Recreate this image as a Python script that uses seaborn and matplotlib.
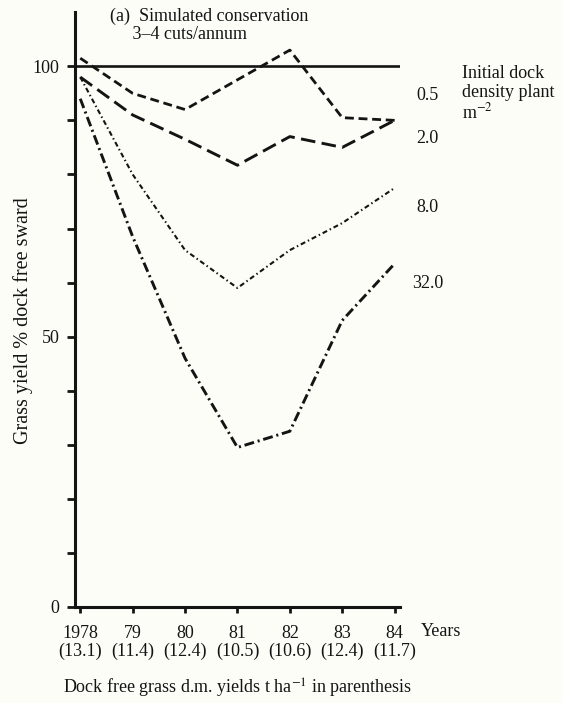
import matplotlib
matplotlib.use("Agg")
import matplotlib.pyplot as plt
import seaborn as sns
import pandas as pd

# ---- data ----
years = ["1978", "79", "80", "81", "82", "83", "84"]
dock_free_yield = ["13.1", "11.4", "12.4", "10.5", "10.6", "12.4", "11.7"]
densities = ["0.5", "2.0", "8.0", "32.0"]
d05 = [101.5, 95.0, 92.0, 97.5, 103.0, 90.5, 90.0]
d20 = [98.0, 91.0, 86.5, 81.7, 87.0, 85.0, 90.0]
d80 = [98.0, 80.0, 66.0, 59.0, 66.0, 71.0, 77.5]
d320 = [94.0, 68.5, 46.0, 29.5, 32.5, 53.0, 63.5]
label_y = [94.6, 86.7, 73.9, 59.9]  # where the density labels sit (y)
reference_level = 100

series = {"0.5": d05, "2.0": d20, "8.0": d80, "32.0": d320}
rows = []
for dens, vals in series.items():
    for i, v in enumerate(vals):
        rows.append({"x": i, "year": years[i], "density": dens, "y": v})
df = pd.DataFrame(rows)

sns.set_theme(style="white")
plt.rcParams["font.family"] = ["Liberation Serif", "DejaVu Serif"]
plt.rcParams["mathtext.fontset"] = "stix"

FS = 13
bg = "#fdfdf8"
ink = "#141414"
fig = plt.figure(figsize=(5.62, 7.03), dpi=100, facecolor=bg)
ax = fig.add_axes([0.1335, 0.1366, 0.578, 0.846])
ax.set_facecolor(bg)

styles = {
    "0.5": dict(dashes=(3.2, 1.7), lw=2.0),
    "2.0": dict(dashes=(5.0, 2.2), lw=2.1),
    "8.0": dict(dashes=(2.4, 1.4, 0.7, 1.4), lw=1.5),
    "32.0": dict(dashes=(3.4, 1.3, 0.7, 1.3), lw=2.1),
}
for dens in densities:
    sub = df[df["density"] == dens]
    st = styles[dens]
    sns.lineplot(data=sub, x="x", y="y", ax=ax, color=ink, lw=st["lw"],
                 dashes=False, legend=False, estimator=None, sort=False)
    ax.lines[-1].set_dashes(st["dashes"])
    ax.lines[-1].set_clip_on(False)

ax.axhline(reference_level, xmin=0, xmax=1, color=ink, lw=1.9)

ax.set_xlim(-0.1, 6.1)
ax.set_ylim(0, 110)

# spines
for s in ["top", "right"]:
    ax.spines[s].set_visible(False)
for s in ["left", "bottom"]:
    ax.spines[s].set_color(ink)
    ax.spines[s].set_linewidth(2.2)

# ticks
yt = list(range(0, 101, 10))
ax.set_yticks(yt)
ax.set_yticklabels([str(t) if t in (0, 50, 100) else "" for t in yt])
ax.tick_params(axis="y", direction="out", length=6, width=2, color=ink,
               labelsize=FS, labelcolor=ink, pad=5, left=True)
ax.set_xticks(range(len(years)))
ax.set_xticklabels([f"{y}\n({v})" for y, v in zip(years, dock_free_yield)],
                   linespacing=1.05)
ax.tick_params(axis="x", direction="out", length=4, width=2, color=ink,
               labelsize=FS, labelcolor=ink, pad=9, bottom=True)

ax.set_xlabel("")
ax.set_ylabel("Grass yield % dock free sward", fontsize=14.5, color=ink)
ax.yaxis.set_label_coords(-0.13, 0.482)

# title-like annotation
fig.text(110 / 562, 1 - 8 / 703, "(a)  Simulated conservation\n     3–4 cuts/annum",
         fontsize=FS, color=ink, va="top", ha="left", linespacing=1.05)

# density labels
for dens, yl in zip(densities, label_y):
    ax.text(6.42 if dens != "32.0" else 6.34, yl, dens, fontsize=FS, color=ink,
            va="center", ha="left", clip_on=False)

ax.text(7.28, 100.2, "Initial dock\ndensity plant\nm$^{-2}$", fontsize=FS,
        color=ink, va="top", ha="left", linespacing=1.12, clip_on=False)

ax.text(6.5, -4.6, "Years", fontsize=FS, color=ink, va="center", ha="left",
        clip_on=False)

fig.text(0.422, 0.021, "Dock free grass d.m. yields t ha$^{-1}$ in parenthesis",
         fontsize=FS, color=ink, ha="center", va="center")

fig.savefig("out.png", dpi=100, facecolor=bg)
